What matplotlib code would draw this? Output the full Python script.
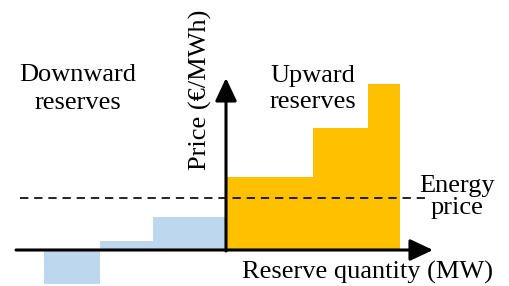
import matplotlib
matplotlib.use("Agg")
import matplotlib.pyplot as plt
import numpy as np

# Schematic reserve-offer curves (arbitrary units; origin at axes crossing)
down_edges = [-182, -126, -73, 0]
down_prices = [-34, 9, 33]
up_edges = [0, 87, 142, 174]
up_prices = [73, 122, 166]
energy_price = 52

blue = "#BDD7EE"
orange = "#FFC000"

plt.rcParams['font.family'] = ['Liberation Serif', 'DejaVu Serif']

fig = plt.figure(figsize=(5.09, 2.86), dpi=100)
ax = fig.add_axes([0, 0, 1, 1])
ax.set_xlim(-226, 283)
ax.set_ylim(-36, 250)
ax.axis('off')

de = np.array(down_edges)
ax.bar(de[:-1], down_prices, width=np.diff(de), align='edge', color=blue, zorder=1, linewidth=0)
ue = np.array(up_edges)
ax.bar(ue[:-1], up_prices, width=np.diff(ue), align='edge', color=orange, zorder=1, linewidth=0)

# energy price line
ax.plot([-206, 201], [energy_price, energy_price], color='black', lw=1.2,
        dashes=(5, 3.5), zorder=2)

# axes arrows
astyle = '-|>,head_length=0.7,head_width=0.33'
ax.annotate('', xy=(207, 0), xytext=(-210, 0),
            arrowprops=dict(arrowstyle=astyle, lw=2.2, color='black',
                            mutation_scale=20, shrinkA=0, shrinkB=0), zorder=3)
ax.annotate('', xy=(0, 172), xytext=(0, -1),
            arrowprops=dict(arrowstyle=astyle, lw=2.2, color='black',
                            mutation_scale=20, shrinkA=0, shrinkB=0), zorder=3)

fs = 19
ax.text(-148, 161, "Downward\nreserves", ha='center', va='center', fontsize=fs, linespacing=1.32)
ax.text(87, 161, "Upward\nreserves", ha='center', va='center', fontsize=fs, linespacing=1.25)
ax.text(231, 53, "Energy\nprice", ha='center', va='center', fontsize=fs, linespacing=0.97)
ax.text(-26, 160, "Price (€/MWh)", ha='center', va='center', rotation=90, fontsize=fs)
ax.text(142, -22, "Reserve quantity (MW)", ha='center', va='center', fontsize=fs)

fig.savefig("out.png", dpi=100)
